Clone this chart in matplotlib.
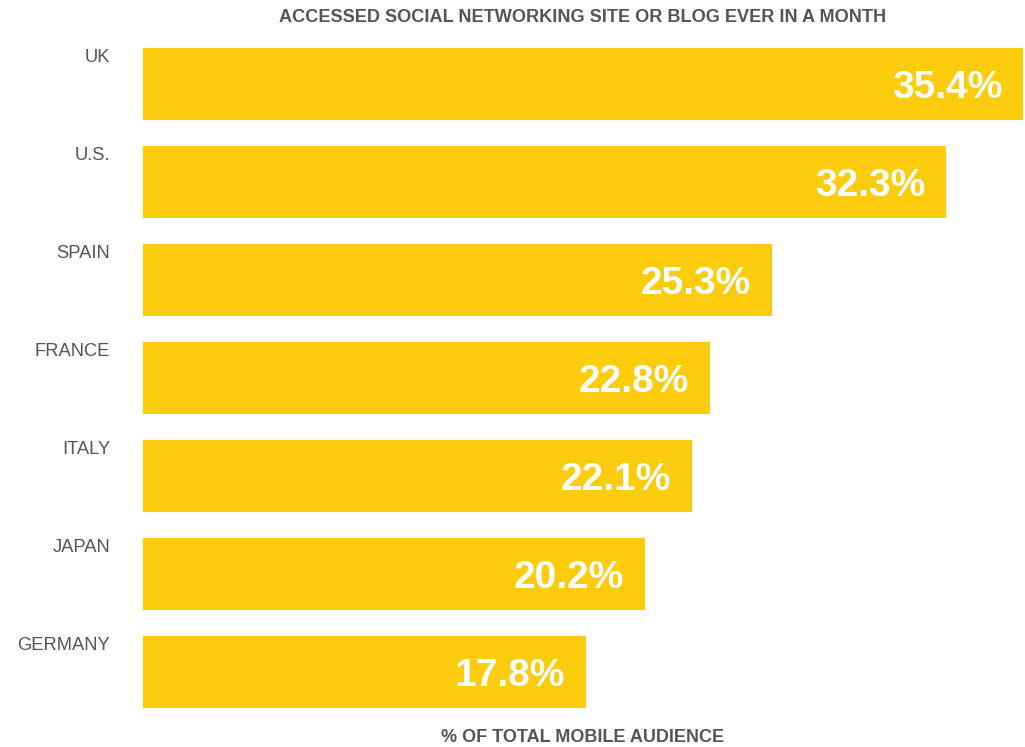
import matplotlib
matplotlib.use('Agg')
from matplotlib import pyplot as plt
import numpy as np

# %% data
countries = ['UK', 'U.S.', 'SPAIN', 'FRANCE', 'ITALY', 'JAPAN', 'GERMANY']
values = [35.4, 32.3, 25.3, 22.8, 22.1, 20.2, 17.8]

TITLE = 'ACCESSED SOCIAL NETWORKING SITE OR BLOG EVER IN A MONTH'
XLABEL = '% OF TOTAL MOBILE AUDIENCE'

# %% style
BAR_COLOR = '#FDCC0D'
TEXT_GRAY = '#555555'
BAR_H = 0.735
plt.rcParams['font.family'] = ['Liberation Sans', 'DejaVu Sans']

W, H = 1025, 747
fig = plt.figure(figsize=(W / 100, H / 100), dpi=100)
ax = fig.add_axes([143 / W, (H - 721) / H, (W - 143) / W, 686 / H])

y = np.arange(len(countries))
ax.barh(y, values, height=BAR_H, color=BAR_COLOR, left=0)
ax.set_xlim(0, (W - 143) / 24.86)
ax.set_ylim(len(countries) - 0.5, -0.5)
ax.axis('off')

for yi, name, val in zip(y, countries, values):
    # country name, right aligned left of the bar, level with its top
    ax.annotate(name, xy=(0, yi - BAR_H / 2), xytext=(-33, -1),
                textcoords='offset pixels', ha='right', va='top',
                fontsize=13.2, color=TEXT_GRAY)
    # value, white bold inside the bar end
    ax.annotate(f'{val}%', xy=(val, yi), xytext=(-21, -4),
                textcoords='offset pixels', ha='right', va='center',
                fontsize=28, fontweight='bold', color='white')

fig.text(583 / W, 1 - 17 / H, TITLE, ha='center', va='center',
         fontsize=13.1, fontweight='bold', color=TEXT_GRAY)
fig.text(583 / W, 1 - 738 / H, XLABEL, ha='center', va='center',
         fontsize=13, fontweight='bold', color=TEXT_GRAY)

fig.savefig('out.png', dpi=100)
